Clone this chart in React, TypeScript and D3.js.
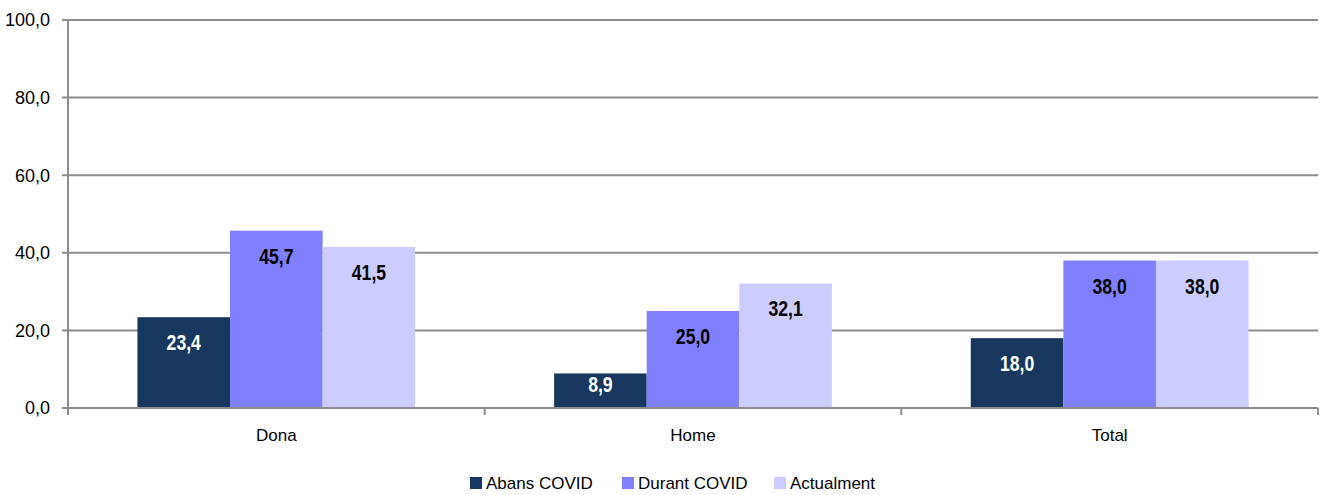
import React from "react";
import * as d3 from "d3";

const categories = ["Dona", "Home", "Total"];
const seriesNames = ["Abans COVID", "Durant COVID", "Actualment"];
const abans = [23.4, 8.9, 18.0];
const durant = [45.7, 25.0, 38.0];
const actualment = [41.5, 32.1, 38.0];
const yTicks = [0, 20, 40, 60, 80, 100];

const colors = ["#17375E", "#8080FF", "#CCCCFF"];
const labelColors = ["#FFFFFF", "#000000", "#000000"];

export default function App() {
  const W = 1323, H = 495;
  const left = 68, right = 1318, top = 20, bottom = 408;
  const series = [abans, durant, actualment];
  const x0 = d3.scaleBand<string>().domain(categories).range([left, right]).padding(0);
  const x1 = d3.scaleBand<number>().domain([0, 1, 2]).range([0, x0.bandwidth()]).paddingInner(0).paddingOuter(0.75);
  const y = d3.scaleLinear().domain([0, 100]).range([bottom, top]);
  const fmt = (v: number) => v.toFixed(1).replace(".", ",");
  const font = "'Liberation Sans', Arial, sans-serif";
  const gridColor = "#8C8C8C";
  const legendX = [470, 622, 774];
  return (
    <svg width={W} height={H} style={{ position: "absolute", left: 0, top: 0 }} fontFamily={font}>
      <rect x={0} y={0} width={W} height={H} fill="#fff" />
      {yTicks.map((t) => (
        <g key={t}>
          <line x1={left - 6} x2={right} y1={y(t)} y2={y(t)} stroke={gridColor} strokeWidth={2} />
          <text x={50} y={y(t)} dy="0.35em" textAnchor="end" fontSize={18} fill="#000">{fmt(t)}</text>
        </g>
      ))}
      {categories.map((c, ci) =>
        series.map((s, si) => {
          const bx = (x0(c) as number) + (x1(si) as number);
          const bw = x1.bandwidth();
          const ty = Math.min(y(s[ci]) + 33, bottom - 16);
          return (
            <g key={c + si}>
              <rect x={bx} y={y(s[ci])} width={bw} height={bottom - y(s[ci])} fill={colors[si]} />
              <g transform={`translate(${bx + bw / 2},${ty}) scale(0.82,1)`}>
                <text x={0} y={0} textAnchor="middle" fontSize={21.5} fontWeight="bold" fill={labelColors[si]}>{fmt(s[ci])}</text>
              </g>
            </g>
          );
        })
      )}
      <line x1={left} x2={left} y1={top} y2={bottom + 7} stroke={gridColor} strokeWidth={2} />
      <line x1={left} x2={right} y1={bottom} y2={bottom} stroke={gridColor} strokeWidth={2} />
      {[...categories.map((c) => x0(c) as number), right].map((xv, i) => (
        <line key={i} x1={xv} x2={xv} y1={bottom} y2={bottom + 7} stroke={gridColor} strokeWidth={2} />
      ))}
      {categories.map((c) => (
        <text key={c} x={(x0(c) as number) + x0.bandwidth() / 2} y={441} textAnchor="middle" fontSize={17} fill="#000">{c}</text>
      ))}
      {seriesNames.map((n, i) => (
        <g key={n}>
          <rect x={legendX[i]} y={477} width={12} height={12} fill={colors[i]} />
          <text x={legendX[i] + 16} y={489} fontSize={17} fill="#000">{n}</text>
        </g>
      ))}
    </svg>
  );
}
